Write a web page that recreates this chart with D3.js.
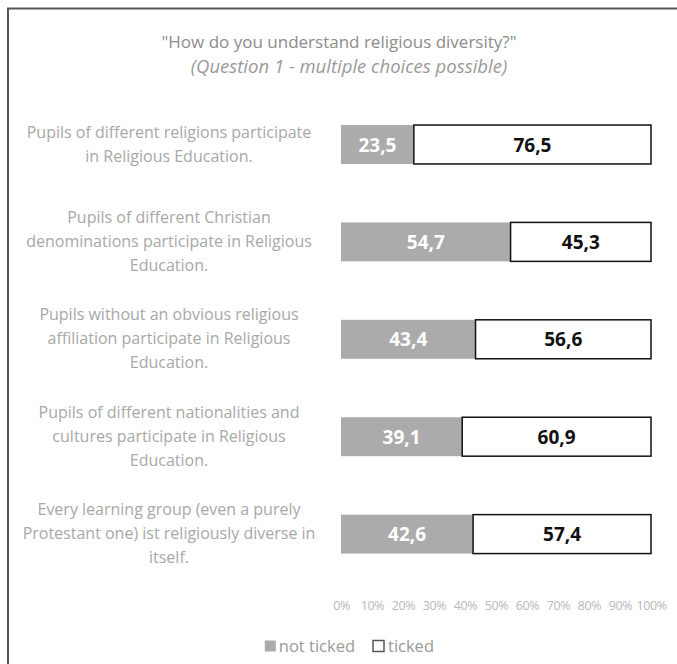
<!DOCTYPE html>
<html>
<head>
<meta charset="utf-8">
<script src="https://cdn.jsdelivr.net/npm/d3@7"></script>
<style>
  body { margin: 0; background: #fff; }
  svg text { font-family: 'Open Sans', 'Noto Sans', sans-serif; }
</style>
</head>
<body>
<div id="canvas"></div>
<script>
// answers per statement, in percent
const categories = [
  'Pupils of different religions participate\nin Religious Education.',
  'Pupils of different Christian\ndenominations participate in Religious\nEducation.',
  'Pupils without an obvious religious\naffiliation participate in Religious\nEducation.',
  'Pupils of different nationalities and\ncultures participate in Religious\nEducation.',
  'Every learning group (even a purely\nProtestant one) ist religiously diverse in\nitself.'
]
const notTicked = [23.5, 54.7, 43.4, 39.1, 42.6]
const ticked = [76.5, 45.3, 56.6, 60.9, 57.4]
const tickValues = [0, 10, 20, 30, 40, 50, 60, 70, 80, 90, 100]
const seriesNames = ['not ticked', 'ticked']

const width = 677
const height = 664
const labelGray = '#a8a8a8'

const svg = d3.select('#canvas').append('svg')
  .attr('width', width)
  .attr('height', height)

// chart frame (only left and top edges fall inside the picture)
svg.append('rect')
  .attr('x', 8).attr('y', 8.5)
  .attr('width', 700).attr('height', 700)
  .attr('fill', 'none')
  .attr('stroke', '#555')
  .attr('stroke-width', 2)

// title
svg.append('text')
  .attr('x', 339).attr('y', 48)
  .attr('text-anchor', 'middle')
  .attr('font-size', 17)
  .attr('fill', '#8c8c8c')
  .text('"How do you understand religious diversity?"')
svg.append('text')
  .attr('x', 349).attr('y', 73)
  .attr('text-anchor', 'middle')
  .attr('font-size', 18.5)
  .attr('font-style', 'italic')
  .attr('fill', '#9a9a9a')
  .text('(Question 1 - multiple choices possible)')

const x = d3.scaleLinear().domain([0, 100]).range([341, 651])
const y = d3.scaleBand()
  .domain(d3.range(categories.length))
  .range([95.8, 582.8])
  .paddingInner(0.6)
  .paddingOuter(0.3)

const fmt = d => d.toFixed(1).replace('.', ',')

const rows = svg.selectAll('.row')
  .data(categories.map((c, i) => ({ label: c, a: notTicked[i], b: ticked[i], i: i })))
  .enter().append('g')
  .attr('class', 'row')

// not ticked segment
rows.append('rect')
  .attr('x', x(0))
  .attr('y', d => y(d.i))
  .attr('width', d => x(d.a) - x(0))
  .attr('height', y.bandwidth())
  .attr('fill', '#ababab')

// ticked segment
rows.append('rect')
  .attr('x', d => x(d.a))
  .attr('y', d => y(d.i))
  .attr('width', d => x(d.a + d.b) - x(d.a))
  .attr('height', y.bandwidth())
  .attr('fill', '#fff')
  .attr('stroke', '#111')
  .attr('stroke-width', 1.5)

rows.append('text')
  .attr('x', d => (x(0) + x(d.a)) / 2)
  .attr('y', d => y(d.i) + y.bandwidth() / 2 + 7)
  .attr('text-anchor', 'middle')
  .attr('font-size', 19)
  .attr('font-weight', 'bold')
  .attr('fill', '#fff')
  .text(d => fmt(d.a))

rows.append('text')
  .attr('x', d => (x(d.a) + x(d.a + d.b)) / 2)
  .attr('y', d => y(d.i) + y.bandwidth() / 2 + 7)
  .attr('text-anchor', 'middle')
  .attr('font-size', 19)
  .attr('font-weight', 'bold')
  .attr('fill', '#111')
  .text(d => fmt(d.b))

// category labels, centred lines
rows.each(function (d) {
  const lines = d.label.split('\n')
  const lh = 24
  const cy = y(d.i) + y.bandwidth() / 2
  const t = d3.select(this).append('text')
    .attr('text-anchor', 'middle')
    .attr('font-size', 16)
    .attr('fill', labelGray)
  lines.forEach((ln, k) => {
    t.append('tspan')
      .attr('x', 169)
      .attr('y', cy + (k - (lines.length - 1) / 2) * lh + 5)
      .text(ln)
  })
})

// x axis: labels only
const axis = svg.append('g')
  .attr('transform', 'translate(0,598)')
  .call(d3.axisBottom(x).tickValues(tickValues).tickFormat(d => d + '%').tickSize(0))
axis.select('.domain').remove()
axis.selectAll('text')
  .attr('font-family', "'Open Sans', sans-serif")
  .attr('font-size', 12.5)
  .attr('letter-spacing', -0.4)
  .attr('fill', '#b8b8b8')

// legend: second item box at 373, first item text ends near 355
const legend = svg.append('g').attr('transform', 'translate(0,646)')
const item2 = legend.append('g').attr('transform', 'translate(373,0)')
item2.append('rect')
  .attr('x', 0).attr('y', -5.5)
  .attr('width', 11).attr('height', 11)
  .attr('fill', '#fff')
  .attr('stroke', '#555')
  .attr('stroke-width', 1.5)
item2.append('text')
  .attr('x', 15).attr('y', 6)
  .attr('font-size', 16.5)
  .attr('fill', '#9a9a9a')
  .text(seriesNames[1])

const item1 = legend.append('g')
const t1 = item1.append('text')
  .attr('x', 355).attr('y', 6)
  .attr('text-anchor', 'end')
  .attr('font-size', 16.5)
  .attr('fill', '#9a9a9a')
  .text(seriesNames[0])
const w1 = t1.node().getComputedTextLength()
item1.append('rect')
  .attr('x', 355 - w1 - 14).attr('y', -5.5)
  .attr('width', 11).attr('height', 11)
  .attr('fill', '#ababab')
</script>
</body>
</html>
